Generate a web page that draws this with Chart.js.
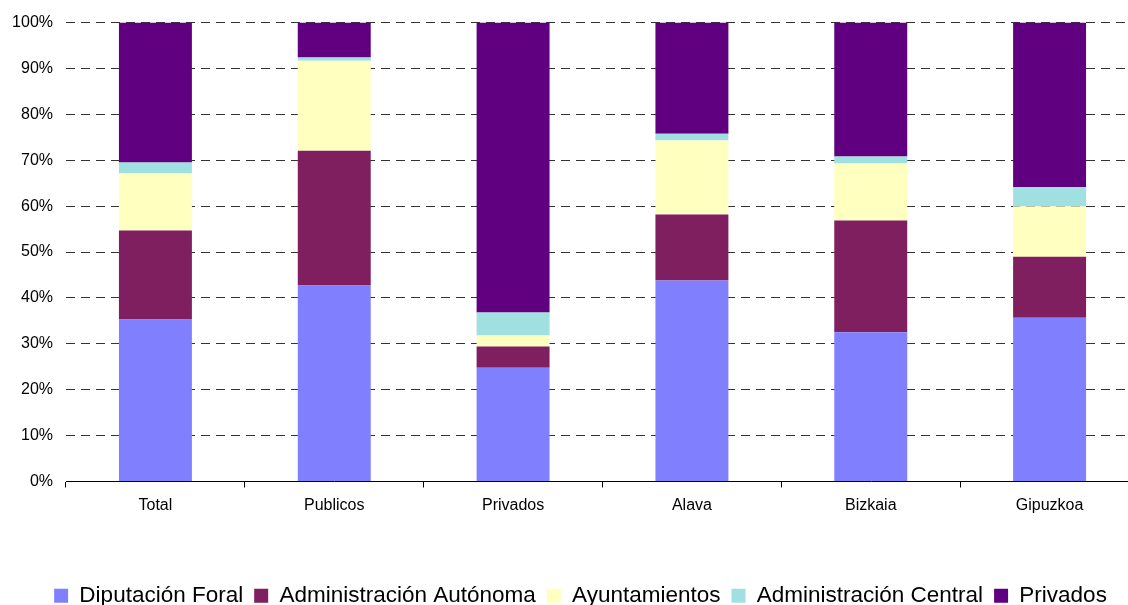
<!DOCTYPE html>
<html>
<head>
<meta charset="utf-8">
<script src="https://cdn.jsdelivr.net/npm/chart.js@4/dist/chart.umd.min.js"></script>
<style>
  html, body { margin: 0; padding: 0; background: #fff; overflow: hidden; }
  #wrap { width: 1139px; height: 605px; position: relative; }
</style>
</head>
<body>
<div id="wrap"><canvas id="myChart"></canvas></div>
<script>
const categories = ['Total', 'Publicos', 'Privados', 'Alava', 'Bizkaia', 'Gipuzkoa'];
const diputacionForal = [35.3, 42.7, 24.8, 43.8, 32.5, 35.7];
const adminAutonoma = [19.4, 29.4, 4.6, 14.4, 24.4, 13.3];
const ayuntamientos = [12.4, 19.6, 2.4, 16.1, 12.4, 10.9];
const adminCentral = [2.4, 0.7, 5.0, 1.5, 1.5, 4.2];
const privados = [30.5, 7.6, 63.2, 24.2, 29.2, 35.9];
const yTicks = [0, 10, 20, 30, 40, 50, 60, 70, 80, 90, 100];

const font = "'Liberation Sans', Arial, sans-serif";

const data = {
  labels: categories,
  datasets: [
    { label: 'Diputación Foral', data: diputacionForal, backgroundColor: '#8080FF' },
    { label: 'Administración Autónoma', data: adminAutonoma, backgroundColor: '#7F1F5F' },
    { label: 'Ayuntamientos', data: ayuntamientos, backgroundColor: '#FFFFC0' },
    { label: 'Administración Central', data: adminCentral, backgroundColor: '#A0E0E0' },
    { label: 'Privados', data: privados, backgroundColor: '#600080' }
  ]
};

// legend sits a bit right of the middle in the original
const shiftLegend = {
  id: 'shiftLegend',
  afterLayout(chart) {
    chart.legend.left += 11;
    chart.legend.right += 11;
  }
};

const config = {
  type: 'bar',
  data,
  plugins: [shiftLegend],
  options: {
    responsive: true,
    maintainAspectRatio: false,
    animation: false,
    datasets: {
      bar: { categoryPercentage: 1, barPercentage: 0.408, borderWidth: 0 }
    },
    layout: { padding: { top: 22, right: 0, left: 0, bottom: -12 } },
    scales: {
      x: {
        stacked: true,
        offset: true,
        grid: {
          offset: true,
          drawOnChartArea: false,
          drawTicks: true,
          tickLength: 6,
          color: '#000'
        },
        border: { display: true, color: '#000', width: 1 },
        ticks: { color: '#000', padding: 8, font: { family: font, size: 16 } },
        afterFit: (scale) => { scale.height = 92; }
      },
      y: {
        stacked: true,
        min: 0,
        max: 100,
        afterBuildTicks: (scale) => { scale.ticks = yTicks.map(v => ({ value: v })); },
        grid: {
          drawTicks: false,
          color: (ctx) => ctx.tick && ctx.tick.value === 0 ? 'rgba(0,0,0,0)' : '#333',
          lineWidth: 1
        },
        border: { display: false, dash: [9, 6] },
        ticks: {
          color: '#000',
          padding: 13,
          font: { family: font, size: 16 },
          callback: (v) => v + '%'
        },
        afterFit: (scale) => { scale.width = 66; }
      }
    },
    plugins: {
      legend: {
        position: 'bottom',
        labels: {
          color: '#000',
          boxWidth: 14,
          boxHeight: 14,
          padding: 11,
          font: { family: font, size: 22.5 }
        }
      },
      tooltip: { enabled: false }
    }
  }
};

const myChart = new Chart(document.getElementById('myChart'), config);
</script>
</body>
</html>
